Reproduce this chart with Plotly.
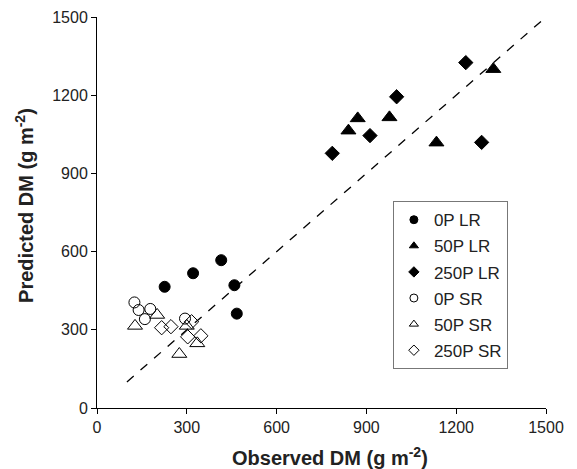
import plotly.graph_objects as go

# Data (Observed DM, Predicted DM), g m-2
obs_0P_LR = [226, 321, 415, 459, 467]
pred_0P_LR = [465, 517, 567, 471, 362]

obs_50P_LR = [840, 871, 977, 1134, 1324]
pred_50P_LR = [1064, 1111, 1115, 1018, 1300]

obs_250P_LR = [786, 912, 1001, 1232, 1285]
pred_250P_LR = [977, 1045, 1194, 1325, 1019]

obs_0P_SR = [125, 139, 178, 160, 294]
pred_0P_SR = [405, 376, 380, 341, 343]

obs_50P_SR = [127, 201, 300, 335, 275]
pred_50P_SR = [315, 357, 315, 248, 207]

obs_250P_SR = [216, 247, 316, 303, 347]
pred_250P_SR = [308, 312, 331, 273, 277]

line_x = [100, 1500]
line_y = [100, 1500]

tick_vals = [0, 300, 600, 900, 1200, 1500]

fig = go.Figure()

fig.add_trace(go.Scatter(x=line_x, y=line_y, mode="lines",
                         line=dict(color="black", width=1.3, dash="dash"),
                         showlegend=False, hoverinfo="skip"))

series = [
    ("0P LR", obs_0P_LR, pred_0P_LR, "circle", 11),
    ("50P LR", obs_50P_LR, pred_50P_LR, "triangle-up", 13),
    ("250P LR", obs_250P_LR, pred_250P_LR, "diamond", 11),
    ("0P SR", obs_0P_SR, pred_0P_SR, "circle-open", 11),
    ("50P SR", obs_50P_SR, pred_50P_SR, "triangle-up-open", 13),
    ("250P SR", obs_250P_SR, pred_250P_SR, "diamond-open", 11),
]
for name, xs, ys, sym, sz in series:
    fig.add_trace(go.Scatter(
        x=xs, y=ys, mode="markers", name=name, showlegend=False,
        marker=dict(symbol=sym, size=sz, color="black",
                    line=dict(color="black", width=1)),
    ))
# legend entries with the smaller symbols used in the reference legend
for name, xs, ys, sym, sz in series:
    fig.add_trace(go.Scatter(
        x=[None], y=[None], mode="markers", name=name, legendgroup=name,
        marker=dict(symbol=sym, size=8, color="black",
                    line=dict(color="black", width=1)),
    ))

axis_common = dict(
    range=[0, 1500], tickvals=tick_vals, ticks="outside", ticklen=5,
    tickcolor="black", showline=True, linecolor="black", linewidth=1,
    showgrid=False, zeroline=False, tickfont=dict(size=16, color="#222"),
    automargin=False,
)

fig.update_layout(
    width=577, height=469,
    margin=dict(l=89, r=39, t=9, b=69),
    paper_bgcolor="white", plot_bgcolor="white",
    font=dict(family="Liberation Sans, Arial, sans-serif", color="#222"),
    xaxis=dict(**axis_common),
    yaxis=dict(**axis_common),
    legend=dict(x=0.659, y=0.529, xanchor="left", yanchor="top",
                bgcolor="white", bordercolor="#777", borderwidth=1,
                font=dict(size=17, color="#222"), itemwidth=30,
                tracegroupgap=1),
    annotations=[
        dict(text="<b>Observed DM (g m<sup>-2</sup>)</b>", xref="paper",
             yref="paper", x=0.52, y=-0.125, xanchor="center",
             yanchor="middle", showarrow=False,
             font=dict(size=20, color="#222")),
        dict(text="<b>Predicted DM (g m<sup>-2</sup>)</b>", xref="paper",
             yref="paper", x=-0.163, y=0.519, xanchor="center",
             yanchor="middle", showarrow=False, textangle=-90,
             font=dict(size=20, color="#222")),
    ],
)

fig.write_html("out.html")
